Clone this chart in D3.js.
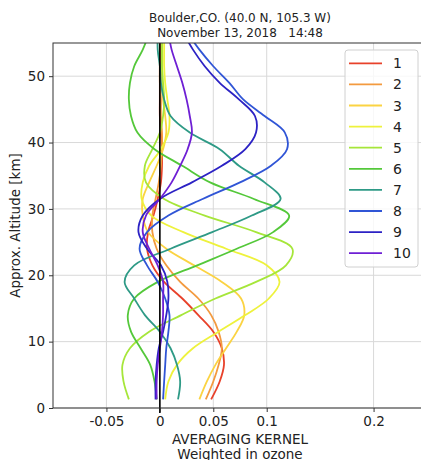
<!DOCTYPE html>
<html>
<head>
<meta charset="utf-8">
<script src="https://cdn.jsdelivr.net/npm/d3@7"></script>
<style>
  html, body { margin: 0; padding: 0; background: #ffffff; }
  svg { display: block; font-family: "DejaVu Sans", sans-serif; }
  .title { white-space: pre; }
</style>
</head>
<body>
<svg id="chart" width="421" height="460"></svg>
<script>
// Altitude levels (km) at which each averaging kernel is sampled
const altitudes = [1.3, 4, 6.5, 9, 11.5, 14, 16.5, 19, 21.5, 24, 26.5, 29, 31.5, 34, 36.5, 39, 41.5, 44, 46.5, 49, 51.5, 54, 56.5];

// Averaging kernel values (weighted in ozone), one array per layer
const layer1  = [0.048, 0.056, 0.060, 0.058, 0.050, 0.036, 0.021, 0.004, -0.007, -0.012, -0.011, -0.006, -0.002, 0.001, 0.002, 0.002, 0.001, 0.000, 0.000, 0.000, 0.000, 0.000, 0.000];
const layer2  = [0.043, 0.050, 0.055, 0.058, 0.055, 0.048, 0.036, 0.019, 0.006, -0.003, -0.007, -0.007, -0.004, -0.001, 0.001, 0.002, 0.002, 0.001, 0.001, 0.000, 0.000, 0.000, 0.000];
const layer3  = [0.037, 0.044, 0.052, 0.062, 0.072, 0.079, 0.076, 0.058, 0.032, 0.006, -0.011, -0.016, -0.016, -0.010, -0.003, 0.003, 0.006, 0.005, 0.003, 0.002, 0.002, 0.002, 0.002];
const layer4  = [0.005, 0.008, 0.016, 0.031, 0.055, 0.080, 0.102, 0.112, 0.100, 0.062, 0.022, -0.008, -0.017, -0.016, -0.010, 0.001, 0.008, 0.009, 0.007, 0.005, 0.004, 0.004, 0.004];
const layer5  = [-0.029, -0.034, -0.035, -0.028, -0.010, 0.020, 0.052, 0.090, 0.118, 0.124, 0.090, 0.042, 0.004, -0.013, -0.014, -0.007, 0.000, 0.003, 0.004, 0.003, 0.002, 0.002, 0.002];
const layer6  = [-0.003, -0.005, -0.009, -0.018, -0.027, -0.030, -0.024, -0.002, 0.035, 0.072, 0.106, 0.121, 0.088, 0.047, 0.021, -0.005, -0.021, -0.027, -0.029, -0.028, -0.024, -0.016, -0.010];
const layer7  = [0.017, 0.019, 0.016, 0.010, 0.000, -0.014, -0.024, -0.033, -0.024, 0.010, 0.049, 0.086, 0.113, 0.098, 0.074, 0.056, 0.028, 0.010, 0.004, 0.001, 0.000, -0.002, -0.002];
const layer8  = [0.003, 0.004, 0.005, 0.006, 0.008, 0.009, 0.005, -0.002, -0.012, -0.019, -0.012, 0.008, 0.040, 0.075, 0.104, 0.119, 0.117, 0.098, 0.078, 0.065, 0.050, 0.037, 0.026];
const layer9  = [-0.004, -0.004, -0.003, -0.001, 0.003, 0.006, 0.008, 0.007, 0.001, -0.012, -0.020, -0.016, 0.000, 0.030, 0.058, 0.080, 0.090, 0.089, 0.074, 0.056, 0.042, 0.031, 0.022];
const layer10 = [-0.003, -0.003, -0.002, 0.000, 0.002, 0.003, 0.003, 0.003, -0.002, -0.010, -0.016, -0.013, 0.000, 0.011, 0.019, 0.026, 0.030, 0.028, 0.025, 0.021, 0.016, 0.011, 0.008];

const kernels = [layer1, layer2, layer3, layer4, layer5, layer6, layer7, layer8, layer9, layer10];
const layerNames = ["1", "2", "3", "4", "5", "6", "7", "8", "9", "10"];
const palette = ["#e8412a", "#f39a3f", "#fbd342", "#eef23c", "#a6e63a", "#54c83a", "#2e9a86", "#3055d6", "#2c22c4", "#6e1fd4"];

// Axis ticks and the zero reference line
const xTicks = [-0.05, 0, 0.05, 0.1, 0.2];
const xTickLabels = ["-0.05", "0", "0.05", "0.1", "0.2"];
const yTicks = [0, 10, 20, 30, 40, 50];
const zeroLine = [{ v: 0, alt: -0.75 }, { v: 0, alt: 55 }];

const titleLines = ["Boulder,CO. (40.0 N, 105.3 W)", "November 13, 2018   14:48"];
const xLabelLines = ["AVERAGING KERNEL", "Weighted in ozone"];
const yLabel = "Approx. Altitude [km]";

const svg = d3.select("#chart");
const plot = { left: 53, right: 427, top: 43, bottom: 408 };

const x = d3.scaleLinear().domain([-0.1, 0.25]).range([plot.left, plot.right]);
const y = d3.scaleLinear().domain([0, 55]).range([plot.bottom, plot.top]);

svg.append("defs").append("clipPath").attr("id", "plotClip")
  .append("rect")
  .attr("x", plot.left).attr("y", plot.top)
  .attr("width", plot.right - plot.left).attr("height", plot.bottom - plot.top);

// Grid lines
const grid = svg.append("g");
grid.selectAll("line.vg").data(xTicks).enter().append("line")
  .attr("x1", d => x(d)).attr("x2", d => x(d))
  .attr("y1", plot.top).attr("y2", plot.bottom)
  .attr("stroke", "#d9d9d9").attr("stroke-width", 1);
grid.selectAll("line.hg").data(yTicks).enter().append("line")
  .attr("x1", plot.left).attr("x2", plot.right)
  .attr("y1", d => y(d)).attr("y2", d => y(d))
  .attr("stroke", "#d9d9d9").attr("stroke-width", 1);

// Kernel curves
const line = d3.line()
  .x(d => x(d.v))
  .y(d => y(d.alt))
  .curve(d3.curveCatmullRom.alpha(0.5));

const curves = svg.append("g").attr("clip-path", "url(#plotClip)");
kernels.forEach((vals, i) => {
  const pts = vals.map((v, j) => ({ v: v, alt: altitudes[j] }));
  curves.append("path")
    .attr("d", line(pts))
    .attr("fill", "none")
    .attr("stroke", palette[i])
    .attr("stroke-width", 1.8)
    .attr("stroke-linejoin", "round");
});

// Zero reference line
svg.append("path")
  .attr("d", d3.line().x(d => x(d.v)).y(d => y(d.alt))(zeroLine))
  .attr("stroke", "#000").attr("stroke-width", 1.6).attr("fill", "none");

// Axes
const xAxis = d3.axisBottom(x).tickValues(xTicks)
  .tickFormat((d, i) => xTickLabels[i]).tickSize(4).tickPadding(4);
const gx = svg.append("g").attr("transform", `translate(0,${plot.bottom})`).call(xAxis);
gx.select(".domain").remove();
gx.selectAll("line").attr("stroke", "#333");
gx.selectAll("text").attr("font-size", 13.5).attr("fill", "#222")
  .attr("font-family", "DejaVu Sans, sans-serif");

const yAxis = d3.axisLeft(y).tickValues(yTicks).tickSize(4).tickPadding(4);
const gy = svg.append("g").attr("transform", `translate(${plot.left},0)`).call(yAxis);
gy.select(".domain").remove();
gy.selectAll("line").attr("stroke", "#333");
gy.selectAll("text").attr("font-size", 13.5).attr("fill", "#222")
  .attr("font-family", "DejaVu Sans, sans-serif");

// Frame
svg.append("rect")
  .attr("x", plot.left).attr("y", plot.top)
  .attr("width", plot.right - plot.left).attr("height", plot.bottom - plot.top)
  .attr("fill", "none").attr("stroke", "#333").attr("stroke-width", 1);

// Title
const cx = (plot.left + plot.right) / 2;
svg.append("g").selectAll("text").data(titleLines).enter().append("text")
  .attr("class", "title")
  .attr("x", cx).attr("y", (d, i) => 22 + i * 14.5)
  .attr("text-anchor", "middle").attr("font-size", 12).attr("fill", "#222")
  .text(d => d);

// Axis labels
svg.append("g").selectAll("text").data(xLabelLines).enter().append("text")
  .attr("x", cx).attr("y", (d, i) => 444 + i * 14.5)
  .attr("text-anchor", "middle").attr("font-size", 13.5).attr("fill", "#222")
  .text(d => d);

svg.append("text")
  .attr("transform", `translate(20,${(plot.top + plot.bottom) / 2}) rotate(-90)`)
  .attr("text-anchor", "middle").attr("font-size", 13.5).attr("fill", "#222")
  .text(yLabel);

// Legend
const legend = svg.append("g").attr("transform", "translate(345,50)");
legend.append("rect")
  .attr("x", 0).attr("y", 0).attr("width", 73).attr("height", 217)
  .attr("rx", 3).attr("fill", "#fff").attr("fill-opacity", 0.8)
  .attr("stroke", "#d0d0d0").attr("stroke-width", 1);
const rows = legend.selectAll("g.row").data(layerNames).enter().append("g")
  .attr("transform", (d, i) => `translate(0,${13.3 + i * 21.1})`);
rows.append("line")
  .attr("x1", 4).attr("x2", 37).attr("y1", 0).attr("y2", 0)
  .attr("stroke", (d, i) => palette[i]).attr("stroke-width", 1.8);
rows.append("text")
  .attr("x", 48).attr("y", 0).attr("dy", "0.36em")
  .attr("font-size", 14).attr("fill", "#222")
  .text(d => d);
</script>
</body>
</html>
